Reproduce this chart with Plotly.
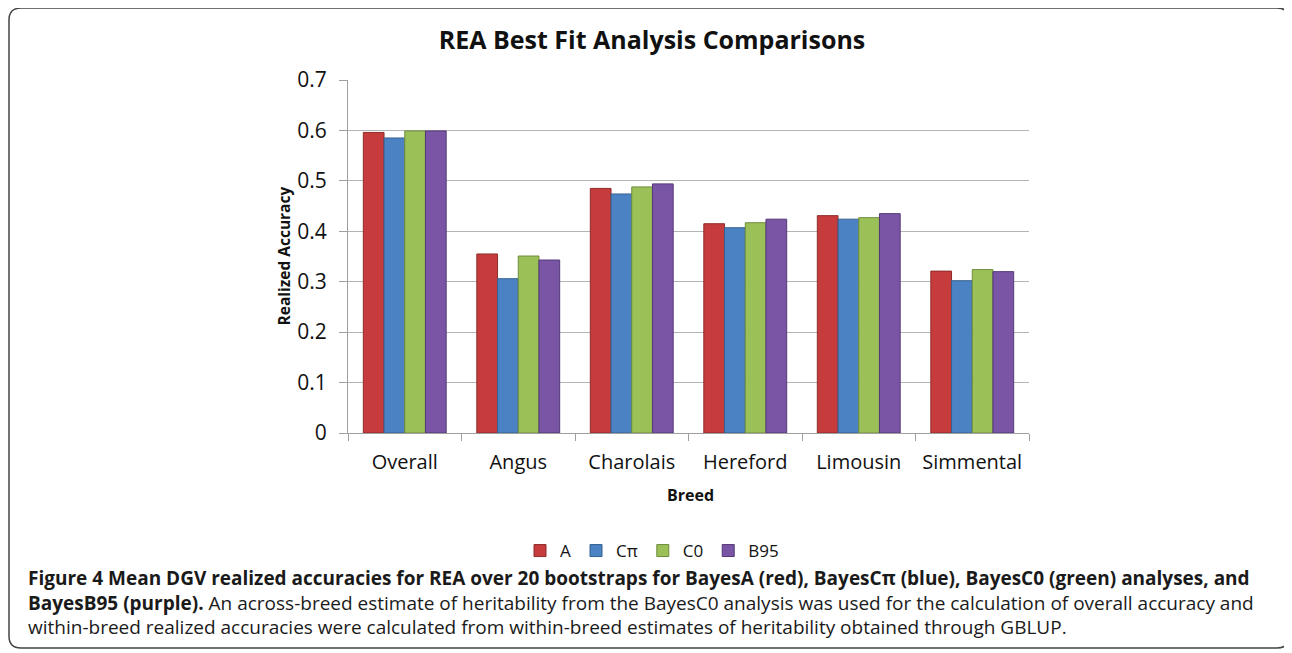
import plotly.graph_objects as go

breeds = ["Overall", "Angus", "Charolais", "Hereford", "Limousin", "Simmental"]
series_names = ["A", "Cπ", "C0", "B95"]
vals_A = [0.596, 0.355, 0.485, 0.415, 0.431, 0.321]
vals_Cpi = [0.585, 0.306, 0.474, 0.407, 0.424, 0.302]
vals_C0 = [0.599, 0.351, 0.488, 0.417, 0.427, 0.324]
vals_B95 = [0.599, 0.343, 0.494, 0.424, 0.435, 0.320]
y_ticks = [0, 0.1, 0.2, 0.3, 0.4, 0.5, 0.6, 0.7]

caption_lines = [
    "<b>Figure 4 Mean DGV realized accuracies for REA over 20 bootstraps for BayesA (red), BayesCπ (blue), BayesC0 (green) analyses, and</b>",
    "<b>BayesB95 (purple).</b> An across-breed estimate of heritability from the BayesC0 analysis was used for the calculation of overall accuracy and",
    "within-breed realized accuracies were calculated from within-breed estimates of heritability obtained through GBLUP.",
]

colors = ["#C63B3B", "#4A82C4", "#9BC058", "#7A55A6"]
edges = ["#8E2A2A", "#35608F", "#6F8C3C", "#533878"]

OFF = 8  # default page body margin
W, H = 1292 - OFF, 653 - OFF
# plot area in page pixels
L, R, T, B = 348, 1029, 80, 433

def px(x):
    return (x - L) / (R - L)

def py(y):
    return (B - y) / (B - T)

fig = go.Figure()
for name, vals, c, e in zip(series_names, [vals_A, vals_Cpi, vals_C0, vals_B95], colors, edges):
    fig.add_trace(go.Bar(x=breeds, y=vals, name=name, marker=dict(color=c, line=dict(color=e, width=1))))

font = "Open Sans, Arial, sans-serif"

x0, x1, y0, y1, r = 9, 1289, 8, 648, 12
def P(x, y):
    return f"{px(x):.5f},{py(y):.5f}"
path = (f"M {P(x0 + r, y0)} L {P(x1 - r, y0)} Q {P(x1, y0)} {P(x1, y0 + r)} "
        f"L {P(x1, y1 - r)} Q {P(x1, y1)} {P(x1 - r, y1)} "
        f"L {P(x0 + r, y1)} Q {P(x0, y1)} {P(x0, y1 - r)} "
        f"L {P(x0, y0 + r)} Q {P(x0, y0)} {P(x0 + r, y0)} Z")

fig.update_layout(
    width=W, height=H,
    margin=dict(l=L - OFF, r=W - (R - OFF), t=T - OFF, b=H - (B - OFF)),
    paper_bgcolor="white", plot_bgcolor="white",
    barmode="group", bargap=0.27, bargroupgap=0,
    title=dict(text="<b>REA Best Fit Analysis Comparisons</b>", x=(652 - OFF) / W, xanchor="center",
               y=1 - (40 - OFF) / H, yanchor="middle", font=dict(family=font, size=25, color="#111")),
    font=dict(family=font, color="#111"),
    showlegend=True,
    legend=dict(orientation="h", x=px(652), xanchor="center", y=py(551), yanchor="middle",
                font=dict(size=17, color="#111"), itemwidth=30, traceorder="normal"),
    xaxis=dict(showline=True, linecolor="#A0A0A0", linewidth=1, ticks="outside", tickson="boundaries",
               ticklen=7, tickcolor="#A0A0A0", tickfont=dict(size=20, color="#111"), showgrid=False,
               ticklabelstandoff=11),
    yaxis=dict(range=[0, 0.7], tickvals=y_ticks, ticktext=[f"{v:g}" for v in y_ticks],
               showline=True, linecolor="#A0A0A0", linewidth=1, ticks="outside", ticklen=8,
               tickcolor="#A0A0A0", tickfont=dict(size=21, color="#111"), ticklabelstandoff=8,
               showgrid=True, gridcolor="#B4B4B4", gridwidth=1, zeroline=False),
    shapes=[dict(type="path", xref="paper", yref="paper", path=path,
                 line=dict(color="#444", width=1.5), fillcolor="rgba(0,0,0,0)", layer="below")],
    annotations=[
        dict(text="<b>Realized Accuracy</b>", x=px(283), y=0.5, xref="paper", yref="paper",
             xanchor="center", yanchor="middle",
             textangle=-90, showarrow=False, font=dict(size=15.5, color="#111")),
        dict(text="<b>Breed</b>", x=px(690), y=py(495), xref="paper", yref="paper",
             xanchor="center", yanchor="middle",
             showarrow=False, font=dict(size=16, color="#111")),
        dict(text="<br>".join(caption_lines),
             x=px(26), y=py(602), xref="paper", yref="paper", xanchor="left", yanchor="middle",
             align="left", showarrow=False, font=dict(size=19, color="#1a1a1a")),
    ],
)

fig.write_html("out.html")
